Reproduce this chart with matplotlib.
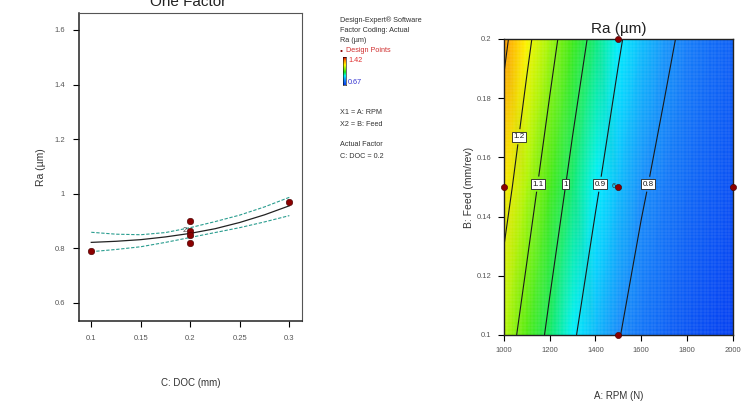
import numpy as np
import matplotlib
matplotlib.use("Agg")
import matplotlib.pyplot as plt
from matplotlib.colors import LinearSegmentedColormap

plt.rcParams['font.family'] = ['Liberation Sans Narrow', 'Liberation Sans', 'DejaVu Sans']

# ── One-factor plot data (C: DOC) ─────────────────────────
doc_pts = [0.1, 0.2, 0.2, 0.2, 0.2, 0.3]
ra_pts = [0.79, 0.90, 0.864, 0.849, 0.82, 0.971]

doc_fit = [0.10, 0.125, 0.15, 0.175, 0.20, 0.225, 0.25, 0.275, 0.30]
ra_fit = [0.822, 0.826, 0.832, 0.842, 0.855, 0.872, 0.895, 0.923, 0.956]
ra_upper = [0.859, 0.852, 0.850, 0.858, 0.876, 0.898, 0.922, 0.952, 0.987]
ra_lower = [0.788, 0.796, 0.806, 0.822, 0.840, 0.858, 0.876, 0.897, 0.920]

# ── Contour data: Ra over RPM x Feed (C = 0.2) ────────────
rpm = [1000, 1100, 1200, 1300, 1400, 1500, 1600, 1700, 1800, 1900, 2000]
feed = [0.10, 0.15, 0.20]
ra_grid = [
    [1.148, 1.062, 0.982, 0.910, 0.853, 0.804, 0.765, 0.735, 0.710, 0.690, 0.675],
    [1.235, 1.140, 1.053, 0.976, 0.910, 0.855, 0.810, 0.775, 0.745, 0.720, 0.700],
    [1.320, 1.220, 1.130, 1.046, 0.974, 0.910, 0.858, 0.818, 0.782, 0.752, 0.730],
]
levels = [0.8, 0.9, 1.0, 1.1, 1.2, 1.3]
design_rpm = [1000, 1500, 1500, 1500, 2000]
design_feed = [0.15, 0.20, 0.15, 0.10, 0.15]
ra_min, ra_max = 0.67, 1.42

TICK_C = "#555555"
PT_C = "#8b0000"
CI_C = "#2a9d8f"

cmap = LinearSegmentedColormap.from_list("de", [
    (0.00, (0.02, 0.25, 0.95)),
    (0.18, (0.10, 0.55, 0.98)),
    (0.32, (0.00, 0.95, 1.00)),
    (0.46, (0.10, 0.90, 0.10)),
    (0.72, (1.00, 1.00, 0.00)),
    (0.88, (1.00, 0.55, 0.00)),
    (1.00, (0.85, 0.00, 0.00)),
])

fig = plt.figure(figsize=(7.41, 4.04), dpi=100)


def fy(py):
    return 1 - py / 404


# ── Left: One Factor ──────────────────────────────────────
ax1 = fig.add_axes([0.1066, 0.2054, 0.301, 0.7624])
ax1.plot(doc_fit, ra_fit, color="#222222", lw=0.9)
ax1.plot(doc_fit, ra_upper, color=CI_C, lw=0.8, ls=(0, (3, 1.5)))
ax1.plot(doc_fit, ra_lower, color=CI_C, lw=0.8, ls=(0, (3, 1.5)))
ax1.scatter(doc_pts, ra_pts, s=22, color=PT_C, edgecolor="#400000", lw=0.4, zorder=4)
ax1.text(0.196, 0.864, "2", fontsize=5.5, color="#444444", ha="right", va="center")
ax1.set_xlim(0.0876, 0.3128)
ax1.set_ylim(0.534, 1.662)
ax1.set_xticks([0.1, 0.15, 0.2, 0.25, 0.3])
ax1.set_xticklabels(["0.1", "0.15", "0.2", "0.25", "0.3"])
ax1.set_yticks([0.6, 0.8, 1.0, 1.2, 1.4, 1.6])
ax1.set_yticklabels(["0.6", "0.8", "1", "1.2", "1.4", "1.6"])
ax1.tick_params(labelsize=5.5, labelcolor=TICK_C, length=4, width=0.8, pad=6)
for side in ["left", "bottom"]:
    ax1.spines[side].set_linewidth(1.1)
    ax1.spines[side].set_color("#222222")
for side in ["top", "right"]:
    ax1.spines[side].set_linewidth(0.8)
    ax1.spines[side].set_color("#555555")
ax1.set_xlabel("C: DOC (mm)", fontsize=7, color="#333333", labelpad=26)
ax1.set_ylabel("Ra (µm)", fontsize=7.5, color="#333333", labelpad=6,
               family=["Liberation Sans", "DejaVu Sans"])
fig.text(188 / 741, fy(6), "One Factor", fontsize=11, color="#222222",
         ha="center", va="baseline")

# ── Legend block ──────────────────────────────────────────
lx = 340 / 741
legend_lines = [
    (20, "Design-Expert® Software", "#333333"),
    (30, "Factor Coding: Actual", "#333333"),
    (40, "Ra (µm)", "#333333"),
    (113, "X1 = A: RPM", "#333333"),
    (124, "X2 = B: Feed", "#333333"),
    (144, "Actual Factor", "#333333"),
    (156, "C: DOC = 0.2", "#333333"),
]
for py, txt, c in legend_lines:
    fig.text(lx, fy(py), txt, fontsize=5.2, color=c, va="center", ha="left")
fig.text(lx, fy(51), "•", fontsize=6, color=PT_C, va="center", ha="left")
fig.text(lx + 6 / 741, fy(51), "Design Points", fontsize=5.2, color="#d03030",
         va="center", ha="left")
cax = fig.add_axes([343 / 741, fy(85), 3 / 741, 28 / 404])
cax.imshow(np.linspace(1, 0, 50).reshape(-1, 1), cmap=cmap, aspect="auto")
cax.set_xticks([])
cax.set_yticks([])
for s in cax.spines.values():
    s.set_linewidth(0.4)
fig.text(348 / 741, fy(61), "1.42", fontsize=5.2, color="#e03030", va="center")
fig.text(348 / 741, fy(83), "0.67", fontsize=5.2, color="#3030d0", va="center")

# ── Right: Contour ────────────────────────────────────────
ax2 = fig.add_axes([0.680, 0.1708, 0.3088, 0.7327])
R, F = np.meshgrid(rpm, feed)
Z = np.array(ra_grid)
ax2.pcolormesh(R, F, Z, cmap=cmap, vmin=ra_min, vmax=ra_max, shading="gouraud")
for xv in np.linspace(1000, 2000, 66)[1:-1]:
    ax2.axvline(xv, color="white", lw=0.35, alpha=0.18)
for yv in np.linspace(0.1, 0.2, 86)[1:-1]:
    ax2.axhline(yv, color="white", lw=0.35, alpha=0.18)
cs = ax2.contour(R, F, Z, levels=levels, colors="#1a1a1a", linewidths=0.8)
lab_pos = [(1063, 0.167), (1145, 0.151), (1267, 0.151), (1415, 0.151), (1627, 0.151)]
labels = ax2.clabel(cs, levels=[0.8, 0.9, 1.0, 1.1, 1.2], manual=lab_pos,
                    fontsize=5.8, fmt={0.8: "0.8", 0.9: "0.9", 1.0: "1", 1.1: "1.1", 1.2: "1.2"},
                    inline=True, inline_spacing=2)
for t in labels:
    t.set_bbox(dict(boxstyle="square,pad=0.18", fc="white", ec="#222222", lw=0.6))
    t.set_rotation(0)
ax2.scatter(design_rpm, design_feed, s=20, color=PT_C, edgecolor="#400000", lw=0.4,
            zorder=5, clip_on=False)
ax2.text(1490, 0.1502, "6", fontsize=5.5, color="#333333", ha="right", va="center")
ax2.set_xlim(1000, 2000)
ax2.set_ylim(0.1, 0.2)
ax2.set_xticks([1000, 1200, 1400, 1600, 1800, 2000])
ax2.set_yticks([0.1, 0.12, 0.14, 0.16, 0.18, 0.2])
ax2.set_yticklabels(["0.1", "0.12", "0.14", "0.16", "0.18", "0.2"])
ax2.tick_params(labelsize=5.5, labelcolor=TICK_C, length=4, width=0.8, pad=5)
for s in ax2.spines.values():
    s.set_linewidth(1.0)
    s.set_color("#222222")
ax2.set_title("Ra (µm)", fontsize=11, color="#222222", pad=4,
              family=["Liberation Sans", "DejaVu Sans"])
ax2.set_xlabel("A: RPM (N)", fontsize=7, color="#333333", labelpad=26)
ax2.set_ylabel("B: Feed (mm/rev)", fontsize=7.5, color="#333333", labelpad=2,
               family=["Liberation Sans", "DejaVu Sans"])

fig.savefig("out.png", dpi=100, facecolor="white")
